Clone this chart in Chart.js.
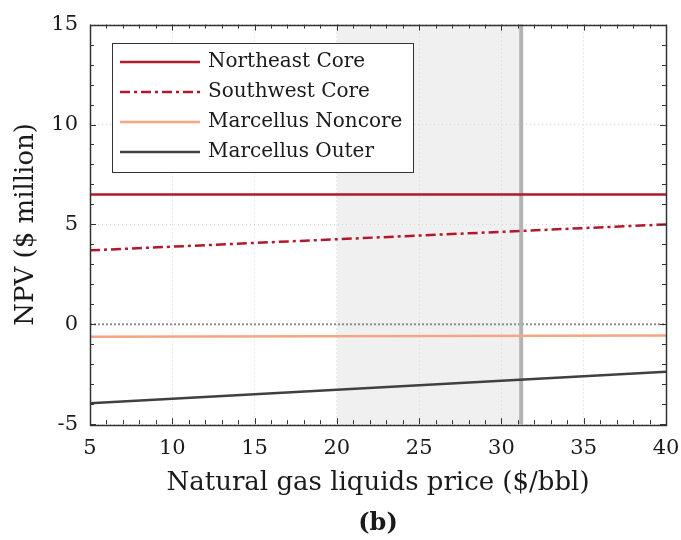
<!DOCTYPE html>
<html>
<head>
<meta charset="utf-8">
<script src="https://cdn.jsdelivr.net/npm/chart.js@4/dist/chart.umd.min.js"></script>
<style>
  html, body { margin: 0; padding: 0; background: #fff; }
  canvas { display: block; }
</style>
</head>
<body>
<canvas id="npv-chart" width="681" height="540"></canvas>
<script>
// values (NPV in $ million)
const nglPrices = [5, 40];
const northeastCore = [6.5, 6.5];
const southwestCore = [3.7, 5.0];
const marcellusNoncore = [-0.62, -0.56];
const marcellusOuter = [-3.95, -2.37];

const seriesLabels = ['Northeast Core', 'Southwest Core', 'Marcellus Noncore', 'Marcellus Outer'];
const yTicks = [-5, 0, 5, 10, 15];
const xTicks = [5, 10, 15, 20, 25, 30, 35, 40];

const shadeStart = 20;
const currentPrice = 31.2;
const zeroLine = 0;

const serif = "'DejaVu Serif', serif";

function points(ys) {
    return nglPrices.map((x, i) => ({ x: x, y: ys[i] }));
}

// shaded band + current price marker + zero line
const backdropPlugin = {
    id: 'backdrop',
    beforeDraw(chart) {
        const { ctx, chartArea, scales } = chart;
        const x0 = scales.x.getPixelForValue(shadeStart);
        const x1 = scales.x.getPixelForValue(currentPrice);
        ctx.save();
        ctx.fillStyle = '#f0f0f0';
        ctx.fillRect(x0, chartArea.top, x1 - x0, chartArea.bottom - chartArea.top);
        ctx.restore();
    },
    beforeDatasetsDraw(chart) {
        const { ctx, chartArea, scales } = chart;
        const x1 = scales.x.getPixelForValue(currentPrice);
        const y0 = scales.y.getPixelForValue(zeroLine);
        ctx.save();
        ctx.strokeStyle = '#8c8c8c';
        ctx.lineWidth = 2;
        ctx.setLineDash([2, 2]);
        ctx.beginPath();
        ctx.moveTo(chartArea.left, y0);
        ctx.lineTo(chartArea.right, y0);
        ctx.stroke();
        ctx.setLineDash([]);
        ctx.strokeStyle = '#b3b3b3';
        ctx.lineWidth = 4;
        ctx.beginPath();
        ctx.moveTo(x1, chartArea.top);
        ctx.lineTo(x1, chartArea.bottom);
        ctx.stroke();
        ctx.restore();
    }
};

// box with inward ticks on all four sides, and the boxed legend
const frameLegendPlugin = {
    id: 'frameLegend',
    afterDraw(chart) {
        const { ctx, chartArea, scales } = chart;
        const { left, right, top, bottom } = chartArea;
        ctx.save();
        ctx.strokeStyle = '#333';
        ctx.lineWidth = 1;
        ctx.beginPath();
        for (let v = scales.x.min; v <= scales.x.max; v++) {
            const px = Math.round(scales.x.getPixelForValue(v)) + 0.5;
            const len = v % 5 === 0 ? 6 : 4;
            ctx.moveTo(px, bottom); ctx.lineTo(px, bottom - len);
            ctx.moveTo(px, top); ctx.lineTo(px, top + len);
        }
        for (let v = scales.y.min; v <= scales.y.max; v++) {
            const py = Math.round(scales.y.getPixelForValue(v)) + 0.5;
            const len = v % 5 === 0 ? 6 : 4;
            ctx.moveTo(left, py); ctx.lineTo(left + len, py);
            ctx.moveTo(right, py); ctx.lineTo(right - len, py);
        }
        ctx.stroke();
        ctx.lineWidth = 1.5;
        ctx.strokeRect(Math.round(left) + 0.5, Math.round(top) + 0.5,
            Math.round(right - left), Math.round(bottom - top));

        // legend
        const bx = 112, by = 43, bw = 301, bh = 129;
        ctx.fillStyle = '#fff';
        ctx.fillRect(bx, by, bw, bh);
        ctx.strokeStyle = '#333';
        ctx.lineWidth = 1;
        ctx.strokeRect(bx + 0.5, by + 0.5, bw, bh);
        ctx.font = '20px ' + serif;
        ctx.textBaseline = 'middle';
        ctx.textAlign = 'left';
        chart.data.datasets.forEach((ds, i) => {
            const y = by + 19 + i * 30;
            ctx.strokeStyle = ds.borderColor;
            ctx.lineWidth = ds.borderWidth;
            ctx.setLineDash(ds.borderDash || []);
            ctx.beginPath();
            ctx.moveTo(bx + 8, y);
            ctx.lineTo(bx + 88, y);
            ctx.stroke();
            ctx.setLineDash([]);
            ctx.fillStyle = '#1a1a1a';
            ctx.fillText(ds.label, bx + 96, y);
        });
        ctx.restore();
    }
};

new Chart(document.getElementById('npv-chart').getContext('2d'), {
    type: 'line',
    data: {
        datasets: [
            { label: seriesLabels[0], data: points(northeastCore), borderColor: '#b2182b', borderWidth: 2.5 },
            { label: seriesLabels[1], data: points(southwestCore), borderColor: '#b2182b', borderWidth: 2.5, borderDash: [10, 4, 3, 4] },
            { label: seriesLabels[2], data: points(marcellusNoncore), borderColor: '#f4a582', borderWidth: 2.5 },
            { label: seriesLabels[3], data: points(marcellusOuter), borderColor: '#404040', borderWidth: 2.5 }
        ]
    },
    options: {
        responsive: false,
        animation: false,
        elements: { point: { radius: 0 }, line: { tension: 0, fill: false } },
        layout: { padding: { top: 22, right: 15, left: 0, bottom: 0 } },
        plugins: {
            legend: { display: false },
            tooltip: { enabled: false },
            title: {
                display: true,
                position: 'bottom',
                fullSize: false,
                text: '(b)',
                color: '#1a1a1a',
                font: { family: serif, size: 24, weight: 'bold', lineHeight: 1.2 },
                padding: { top: 0, bottom: 2 }
            }
        },
        scales: {
            x: {
                type: 'linear',
                min: 5,
                max: 40,
                afterFit(scale) {
                    scale.height = 85;
                    scale.paddingLeft = 0;
                    scale.paddingRight = 0;
                },
                afterBuildTicks(scale) {
                    scale.ticks = [];
                    for (let v = 5; v <= 40; v++) scale.ticks.push({ value: v });
                },
                ticks: {
                    autoSkip: false,
                    maxRotation: 0,
                    padding: 12,
                    color: '#1a1a1a',
                    font: { family: serif, size: 21 },
                    callback: (v) => xTicks.includes(v) ? String(v) : ''
                },
                grid: {
                    drawTicks: false,
                    color: (c) => c.tick && c.tick.value % 5 === 0 ? '#d4d4d4' : 'transparent'
                },
                border: { display: false, dash: [1, 3] },
                title: {
                    display: true,
                    text: 'Natural gas liquids price ($/bbl)',
                    color: '#1a1a1a',
                    font: { family: serif, size: 26 },
                    padding: { top: 0, bottom: 10 }
                }
            },
            y: {
                type: 'linear',
                min: -5,
                max: 15,
                afterFit(scale) { scale.width = 90; },
                afterBuildTicks(scale) {
                    scale.ticks = [];
                    for (let v = -5; v <= 15; v++) scale.ticks.push({ value: v });
                },
                ticks: {
                    autoSkip: false,
                    padding: 12,
                    color: '#1a1a1a',
                    font: { family: serif, size: 21 },
                    callback: (v) => yTicks.includes(v) ? String(v) : ''
                },
                grid: {
                    drawTicks: false,
                    color: (c) => c.tick && c.tick.value % 5 === 0 ? '#d4d4d4' : 'transparent'
                },
                border: { display: false, dash: [1, 3] },
                title: {
                    display: true,
                    text: 'NPV ($ million)',
                    color: '#1a1a1a',
                    font: { family: serif, size: 26 },
                    padding: { top: 11, bottom: 0 }
                }
            }
        }
    },
    plugins: [backdropPlugin, frameLegendPlugin]
});
</script>
</body>
</html>
